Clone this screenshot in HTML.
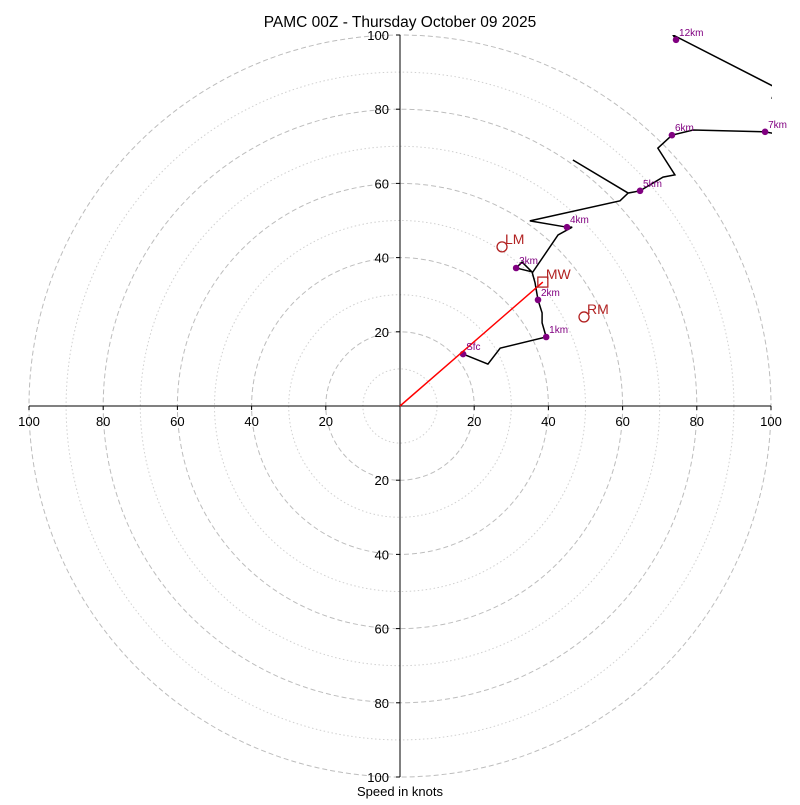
<!DOCTYPE html>
<html><head><meta charset="utf-8"><style>
body{margin:0;background:#fff}
svg{font-family:"Liberation Sans","DejaVu Sans",sans-serif}
</style></head><body>
<svg id="chart" width="800" height="800" viewBox="0 0 800 800" xmlns="http://www.w3.org/2000/svg">
<defs><clipPath id="clip"><rect x="28" y="35" width="744" height="741"/></clipPath></defs>
<rect width="800" height="800" fill="#fff"/>
<text x="400" y="27" text-anchor="middle" font-size="15.5">PAMC 00Z - Thursday October 09 2025</text>
<g id="rings"></g>
<g id="axes"></g>
<g id="data" clip-path="url(#clip)"></g>
<g id="labels"></g>
<text x="400" y="796" text-anchor="middle" font-size="13">Speed in knots</text>
</svg>
<script>
const ringValues=[10,20,30,40,50,60,70,80,90,100];
const tickValues=[20,40,60,80,100];
const pathU=[17.0,23.7,27.0,39.4,38.3,38.3,37.2,36.4,35.6,32.9,31.3,35.8,42.6,46.4,45.0,35.0,59.3,61.5,46.6,61.5,64.7,70.9,74.1,69.5,73.3,79.0,98.4,107.8,115.9,100.3,100.5,107.8,73.6,74.4];
const pathV=[14.0,11.3,15.6,18.6,22.4,25.1,28.6,33.2,36.1,38.8,37.2,36.1,46.1,48.2,48.2,49.9,55.3,57.4,66.3,57.4,58.0,61.7,62.3,69.5,73.0,74.4,73.9,72.2,77.1,83.0,83.5,82.5,100.0,98.7];
const hLabels=["Sfc","1km","2km","3km","4km","5km","6km","7km","12km"];
const hU=[17.0,39.4,37.2,31.3,45.0,64.7,73.3,98.4,74.4];
const hV=[14.0,18.6,28.6,37.2,48.2,58.0,73.0,73.9,98.7];
const stormNames=["LM","RM"];
const stormU=[27.5,49.6];
const stormV=[42.9,24.0];
const mwU=38.5, mwV=33.4;

const cx=400, cy=406, k=3.71;
const sx=u=>cx+u*k, sy=v=>cy-v*k;
const NS="http://www.w3.org/2000/svg";
function mk(t,a,p){const e=document.createElementNS(NS,t);for(const n in a)e.setAttribute(n,a[n]);p.appendChild(e);return e;}
const rings=document.getElementById('rings'),axes=document.getElementById('axes'),data=document.getElementById('data'),labels=document.getElementById('labels');
ringValues.forEach(r=>{
  const c=mk('circle',{cx:cx,cy:cy,r:r*k,fill:'none',stroke:r%20?'#d0d0d0':'#bdbdbd','stroke-width':1,'stroke-dasharray':r%20?'1.5,2.5':'5,3'},rings);
  
  
});
let l=mk('line',{x1:cx,y1:sy(100),x2:cx,y2:sy(-100),stroke:'#000','stroke-width':1},axes);


l=mk('line',{x1:sx(-100),y1:cy,x2:sx(100),y2:cy,stroke:'#000','stroke-width':1},axes);


tickValues.forEach(t=>{
  [-1,1].forEach(s=>{
    let tx=mk('text',{x:sx(s*t),y:cy+20,'text-anchor':'middle','font-size':13},axes);tx.textContent=t;
    
    
    mk('line',{x1:sx(s*t),y1:cy,x2:sx(s*t),y2:cy+4,stroke:'#000'},axes);
    let ty=mk('text',{x:cx-11,y:sy(s*t)+5,'text-anchor':'end','font-size':13},axes);ty.textContent=t;
    
    
    mk('line',{x1:cx-4,y1:sy(s*t),x2:cx,y2:sy(s*t),stroke:'#000'},axes);
  });
});
const pts=pathU.map((u,i)=>sx(u)+','+sy(pathV[i])).join(' ');
const pl=mk('polyline',{points:pts,fill:'none',stroke:'#000','stroke-width':1.5,'stroke-linejoin':'miter'},data);


hLabels.forEach((h,i)=>{
  const d=mk('circle',{cx:sx(hU[i]),cy:sy(hV[i]),r:3.3,fill:'#800080'},data);
  
  
  const t=mk('text',{x:sx(hU[i])+3,y:sy(hV[i])-4,'font-size':10,fill:'#800080'},labels);t.textContent=h;
  
  
});
const mw=mk('line',{x1:cx,y1:cy,x2:sx(mwU),y2:sy(mwV),stroke:'#ff0000','stroke-width':1.5},data);


const sq=mk('rect',{x:sx(mwU)-5,y:sy(mwV)-5,width:10,height:10,fill:'none',stroke:'#b22222','stroke-width':1.3},data);


let mt=mk('text',{x:sx(mwU)+3,y:sy(mwV)-3,'font-size':14,fill:'#b22222'},labels);mt.textContent='MW';


stormNames.forEach((n,i)=>{
  const c=mk('circle',{cx:sx(stormU[i]),cy:sy(stormV[i]),r:5,fill:'none',stroke:'#b22222','stroke-width':1.3},data);
  
  
  const t=mk('text',{x:sx(stormU[i])+3,y:sy(stormV[i])-3,'font-size':14,fill:'#b22222'},labels);t.textContent=n;
  
  
});
</script>
</body></html>
